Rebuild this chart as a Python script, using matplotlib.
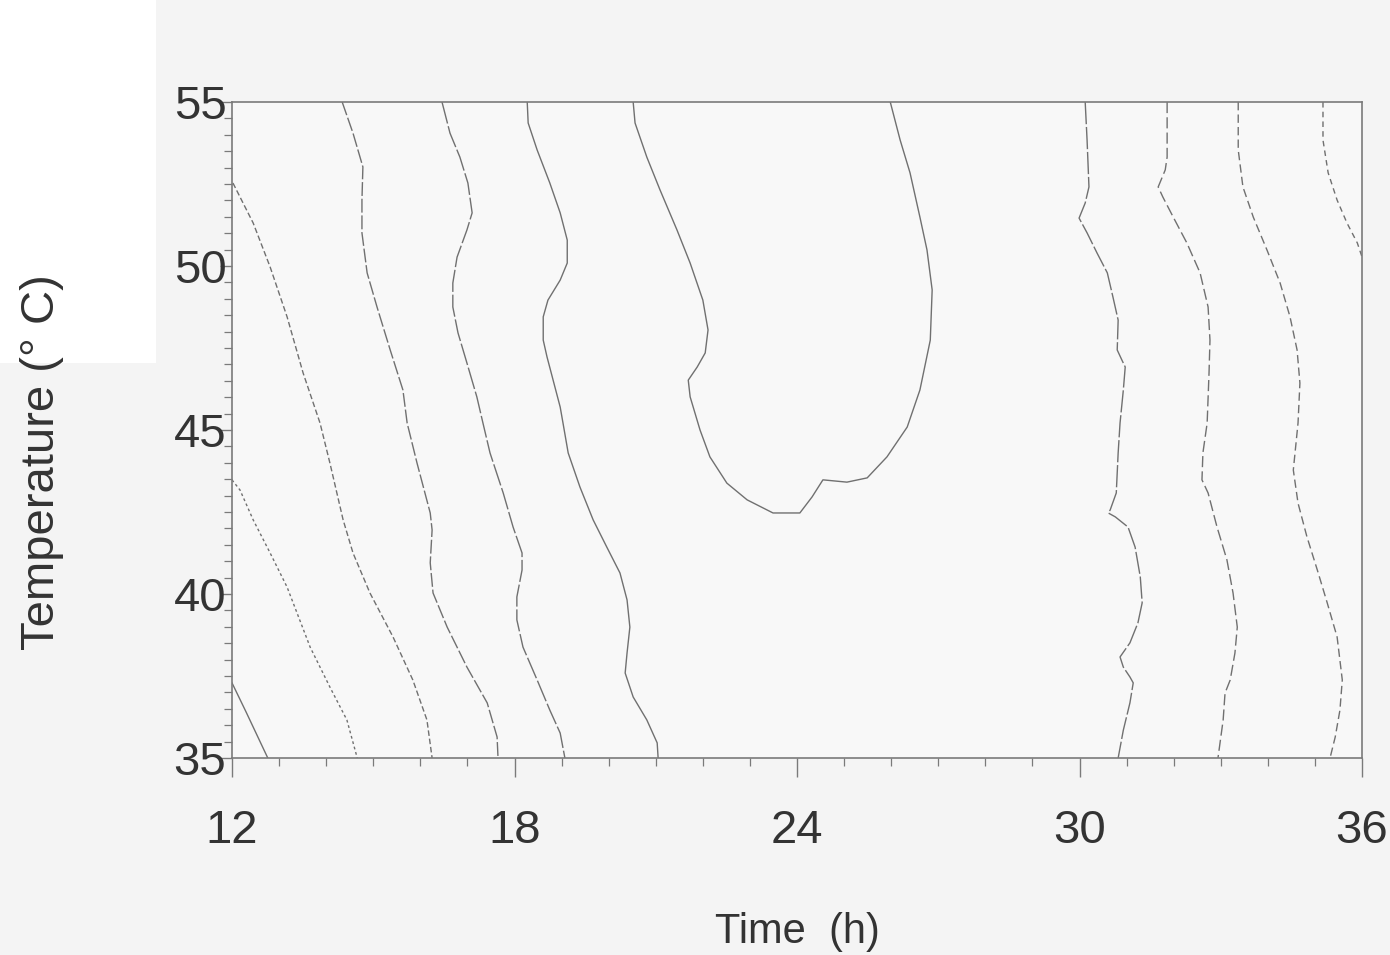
import matplotlib.pyplot as plt
from matplotlib.ticker import MultipleLocator
from matplotlib.patches import Rectangle

# contour lines: (time h, temperature C)
c_a_t = [12.0, 12.30, 12.76]
c_a_T = [37.29, 36.4, 35.0]

c_b_t = [12.0, 12.17, 12.45, 12.81, 13.17, 13.66, 14.08, 14.44, 14.66]
c_b_T = [43.48, 43.17, 42.26, 41.25, 40.21, 38.38, 37.16, 36.16, 35.0]

c_c_t = [12.02, 12.45, 12.81, 13.17, 13.51, 13.87, 14.08, 14.36, 14.57, 14.93, 15.42, 15.84, 16.14, 16.25]
c_c_T = [52.53, 51.31, 49.97, 48.45, 46.74, 45.21, 43.99, 42.26, 41.25, 40.03, 38.69, 37.38, 36.16, 35.0]

c_d_t = [14.34, 14.57, 14.78, 14.76, 14.76, 14.87, 15.08, 15.36, 15.63, 15.72, 15.93, 16.21, 16.25,
         16.21, 16.27, 16.57, 16.99, 17.42, 17.63, 17.65]
c_d_T = [55.0, 54.05, 53.02, 52.01, 51.01, 49.79, 48.75, 47.44, 46.22, 45.21, 43.99, 42.47, 41.95,
         40.95, 40.03, 38.99, 37.77, 36.68, 35.64, 35.0]

c_e_t = [16.46, 16.63, 16.84, 17.01, 17.10, 16.99, 16.78, 16.69, 16.69, 16.80, 16.99, 17.20, 17.33,
         17.48, 17.76, 17.97, 18.16, 18.16, 18.05, 18.05, 18.18, 18.48, 18.75, 18.97, 19.07]
c_e_T = [55.0, 54.05, 53.32, 52.53, 51.62, 51.10, 50.27, 49.48, 48.75, 47.96, 47.04, 46.01, 45.21,
         44.30, 43.08, 42.04, 41.25, 40.73, 39.91, 39.21, 38.38, 37.38, 36.46, 35.76, 35.0]

c_f_t = [18.27, 18.29, 18.48, 18.75, 18.97, 19.12, 19.12, 18.97, 18.71, 18.61, 18.61, 18.69, 18.82,
         18.97, 19.03, 19.14, 19.39, 19.67, 19.96, 20.24, 20.39, 20.45, 20.39, 20.35, 20.52, 20.81,
         21.03, 21.05]
c_f_T = [55.0, 54.36, 53.54, 52.53, 51.62, 50.79, 50.09, 49.57, 48.96, 48.45, 47.74, 47.23, 46.52,
         45.70, 45.21, 44.30, 43.26, 42.26, 41.43, 40.64, 39.82, 38.99, 38.20, 37.59, 36.86, 36.16,
         35.46, 35.0]

c_g_t = [20.52, 20.56, 20.81, 21.09, 21.45, 21.73, 22.00, 22.11, 22.05, 21.88, 21.69, 21.73, 21.94,
         22.15, 22.51, 22.94, 23.49, 24.06, 24.32, 24.55, 25.06, 25.49, 25.91, 26.34, 26.61, 26.83,
         26.87, 26.76, 26.61, 26.40, 26.19, 25.98]
c_g_T = [55.0, 54.36, 53.32, 52.32, 51.10, 50.09, 48.96, 48.05, 47.35, 46.92, 46.52, 46.01, 45.00,
         44.18, 43.38, 42.87, 42.47, 42.47, 42.96, 43.48, 43.41, 43.54, 44.18, 45.09, 46.22, 47.74,
         49.27, 50.49, 51.49, 52.84, 53.84, 55.0]

c_h_t = [30.12, 30.16, 30.20, 30.12, 29.99, 30.16, 30.37, 30.59, 30.71, 30.82, 30.80, 30.90, 30.97,
         30.93, 30.86, 30.82, 30.78, 30.65, 30.61, 30.76, 31.03, 31.18, 31.29, 31.33, 31.24, 31.07,
         30.86, 30.93, 31.07, 31.14, 31.07, 30.93, 30.82]
c_h_T = [55.0, 53.84, 52.41, 51.92, 51.46, 51.01, 50.40, 49.79, 49.05, 48.35, 47.44, 47.13, 46.92,
         46.22, 45.21, 44.30, 43.08, 42.56, 42.47, 42.35, 42.04, 41.43, 40.52, 39.73, 39.12, 38.51,
         38.08, 37.77, 37.47, 37.29, 36.68, 35.85, 35.0]

c_i_t = [31.86, 31.86, 31.82, 31.67, 31.77, 31.99, 32.28, 32.56, 32.73, 32.77, 32.75, 32.71, 32.62,
         32.60, 32.73, 32.92, 33.13, 33.26, 33.35, 33.30, 33.20, 33.09, 33.05, 32.94]
c_i_T = [55.0, 53.32, 52.93, 52.41, 52.10, 51.49, 50.70, 49.79, 48.75, 47.74, 46.74, 45.21, 44.30,
         43.48, 43.08, 42.04, 41.04, 40.03, 38.99, 38.20, 37.38, 36.98, 36.16, 35.0]

c_j_t = [33.37, 33.37, 33.47, 33.69, 33.98, 34.26, 34.47, 34.62, 34.68, 34.64, 34.54, 34.64, 34.83,
         35.05, 35.26, 35.47, 35.58, 35.53, 35.43, 35.32]
c_j_T = [55.0, 53.54, 52.41, 51.49, 50.49, 49.48, 48.45, 47.44, 46.43, 45.21, 43.78, 42.77, 41.74,
         40.73, 39.73, 38.69, 37.38, 36.46, 35.64, 35.0]

c_k_t = [35.17, 35.17, 35.28, 35.47, 35.68, 35.90, 36.0]
c_k_T = [55.0, 53.84, 52.84, 52.01, 51.31, 50.70, 50.27]

x_ticks = [12, 18, 24, 30, 36]
y_ticks = [35, 40, 45, 50, 55]

lines = [
    (c_a_t, c_a_T, '-'),
    (c_b_t, c_b_T, (0, (2, 2))),
    (c_c_t, c_c_T, (0, (4, 2))),
    (c_d_t, c_d_T, (0, (10, 2))),
    (c_e_t, c_e_T, (0, (16, 2))),
    (c_f_t, c_f_T, '-'),
    (c_g_t, c_g_T, '-'),
    (c_h_t, c_h_T, (0, (16, 2))),
    (c_i_t, c_i_T, (0, (8, 3))),
    (c_j_t, c_j_T, (0, (6, 3))),
    (c_k_t, c_k_T, (0, (4, 3))),
]

gray = '#707070'
plt.rcParams['font.family'] = ['Liberation Sans', 'DejaVu Sans']

fig = plt.figure(figsize=(13.9, 9.55), dpi=100, facecolor='#f4f4f4')
fig.patches.append(Rectangle((0, 0.62), 0.112, 0.38, transform=fig.transFigure,
                             facecolor='white', edgecolor='none', zorder=-1))
ax = fig.add_axes([0.1669, 0.2063, 0.8130, 0.6869])
ax.set_facecolor('#f8f8f8')

for t, T, ls in lines:
    ax.plot(t, T, color=gray, lw=1.0, linestyle=ls)

ax.set_xlim(12, 36)
ax.set_ylim(35, 55)
ax.set_xticks(x_ticks)
ax.set_yticks(y_ticks)
ax.xaxis.set_minor_locator(MultipleLocator(1))
ax.yaxis.set_minor_locator(MultipleLocator(0.5))

for s in ax.spines.values():
    s.set_color('#7a7a7a')
    s.set_linewidth(1.2)

ax.tick_params(which='major', direction='out', width=1.0, color='#7a7a7a',
               labelsize=34, labelcolor='#333333')
ax.tick_params(axis='x', which='major', length=14, pad=23)
ax.tick_params(axis='y', which='major', length=9, pad=-5)
ax.tick_params(which='minor', direction='out', length=6, width=0.9, color='#7a7a7a')

ax.set_xlabel('Time  (h)', fontsize=30, color='#333333', labelpad=42)
ax.set_ylabel('Temperature (° C)', fontsize=34, color='#333333')
ax.yaxis.set_label_coords(-0.149, 0.451)

fig.savefig('out.png', dpi=100, facecolor=fig.get_facecolor())
